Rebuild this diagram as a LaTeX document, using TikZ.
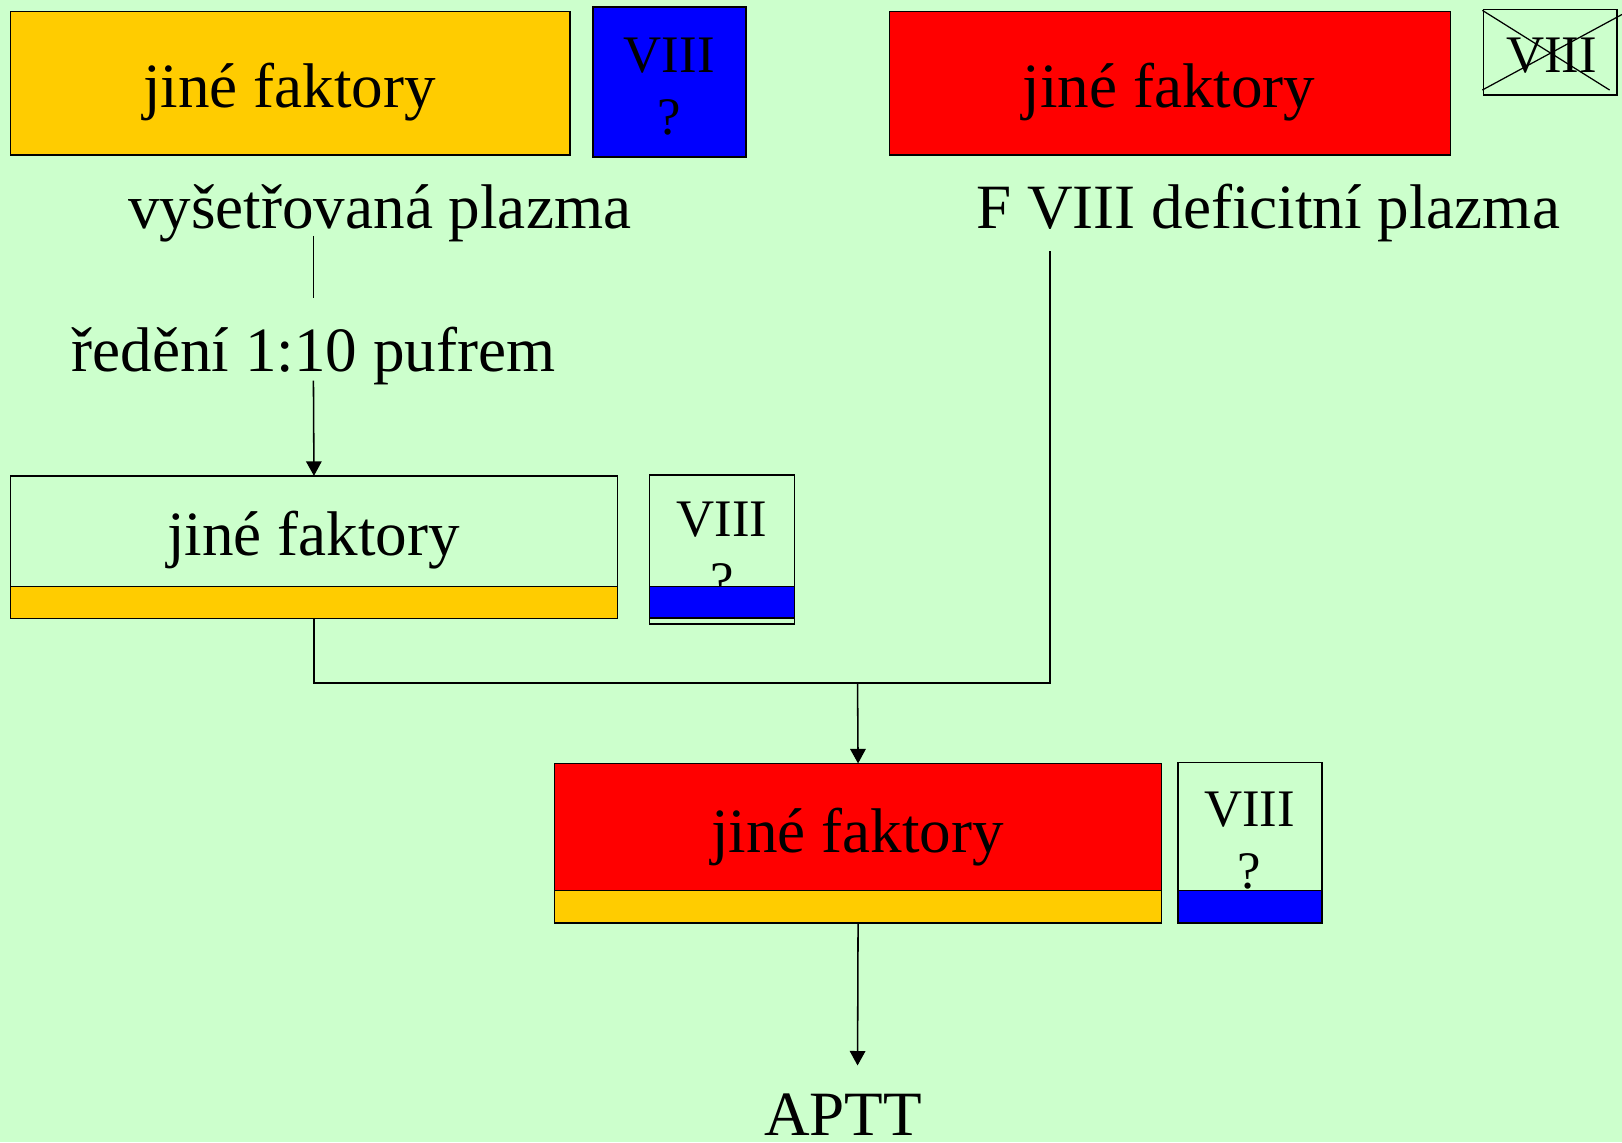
\documentclass[tikz,border=0pt]{standalone}
\usepackage{fontspec}
\setmainfont{Liberation Serif}
\usetikzlibrary{arrows.meta}
\definecolor{bgc}{HTML}{CCFFCC}
\definecolor{yelc}{HTML}{FFCC00}
\definecolor{redc}{HTML}{FF0000}
\definecolor{bluc}{HTML}{0000FF}
\tikzset{
  boxs/.style={draw=black, line width=1.5pt, inner sep=0pt, outer sep=0pt, anchor=north west},
  bigtxt/.style={anchor=base, inner sep=0pt, font=\fontsize{61}{70}\selectfont},
  smalltxt/.style={anchor=base, inner sep=0pt, font=\fontsize{51}{60}\selectfont},
  conn/.style={draw=black, line width=1.5pt},
  arr/.style={conn, -{Triangle[length=14pt,width=15pt]}}
}
\begin{document}
\begin{tikzpicture}[x=1pt,y=-1pt]
\fill[bgc] (0,0) rectangle (1568,1104);
\useasboundingbox (0,0) rectangle (1568,1104);
% top left
\node[boxs, fill=yelc, minimum width=541pt, minimum height=139pt] (ytop) at (10,11) {};
\node[bigtxt] (ytoptxt) at (280,104) {jiné faktory};
\node[boxs, fill=bluc, minimum width=148pt, minimum height=145pt] (btop) at (573,7) {};
\node[smalltxt] (btopv) at (647,70) {VIII};
\node[smalltxt] (btopq) at (647,130) {?};
% top right
\node[boxs, fill=redc, minimum width=542pt, minimum height=139pt] (rtop) at (860,11) {};
\node[bigtxt] (rtoptxt) at (1130,104) {jiné faktory};
\node[boxs, minimum width=129pt, minimum height=83pt] (xbox) at (1434,9) {};
\node[smalltxt] (xboxv) at (1500,70) {VIII};
\coordinate (x1) at (1433,10);
\coordinate (x2) at (1556,87);
\coordinate (x3) at (1433,87);
\coordinate (x4) at (1568,14);
\draw[conn, line width=1.2pt] (x1) -- (x2);
\draw[conn, line width=1.2pt] (x3) -- (x4);
% labels
\node[bigtxt] (vys) at (367,221) {vyšetřovaná plazma};
\node[bigtxt] (fdef) at (1226,221) {F VIII deficitní plazma};
\node[bigtxt] (red) at (303,359) {ředění 1:10 pufrem};
% middle
\node[boxs, minimum width=587pt, minimum height=138pt] (mid) at (10,460) {};
\node[boxs, fill=yelc, minimum width=587pt, minimum height=31pt] (midstrip) at (10,567) {};
\node[bigtxt] (midtxt) at (303,537) {jiné faktory};
\node[boxs, minimum width=140pt, minimum height=144pt] (mv) at (628,459) {};
\node[smalltxt] (mvv) at (698,519) {VIII};
\node[smalltxt] (mvq) at (698,579) {?};
\node[boxs, fill=bluc, minimum width=140pt, minimum height=30.5pt] (mvstrip) at (628,567) {};
% bottom
\node[boxs, fill=redc, minimum width=587pt, minimum height=123pt] (bot) at (536,738) {};
\node[boxs, fill=yelc, minimum width=587pt, minimum height=31pt] (botstrip) at (536,861) {};
\node[bigtxt] (bottxt) at (829,824) {jiné faktory};
\node[boxs, minimum width=139.5pt, minimum height=155pt] (bv) at (1138.5,737) {};
\node[smalltxt] (bvv) at (1208,798.5) {VIII};
\node[smalltxt] (bvq) at (1208,859) {?};
\node[boxs, fill=bluc, minimum width=139.5pt, minimum height=31pt] (bvstrip) at (1138.5,861) {};
\node[bigtxt] (aptt) at (815,1098) {APTT};
% connectors
\coordinate (v1) at (303,228);
\coordinate (v2) at (303,288);
\coordinate (r1) at (303,368);
\draw[conn] (v1) -- (v2);
\draw[arr] (r1) -- (mid.north);
\coordinate (f1) at (1015,243);
\coordinate (f2) at (1015,660);
\coordinate (jn) at (829,660);
\draw[conn] (midstrip.south) |- (f2) -- (f1);
\draw[arr] (jn) -- (bot.north);
\coordinate (ap) at (829,1030);
\draw[arr] (botstrip.south) -- (ap);
\end{tikzpicture}
\end{document}
